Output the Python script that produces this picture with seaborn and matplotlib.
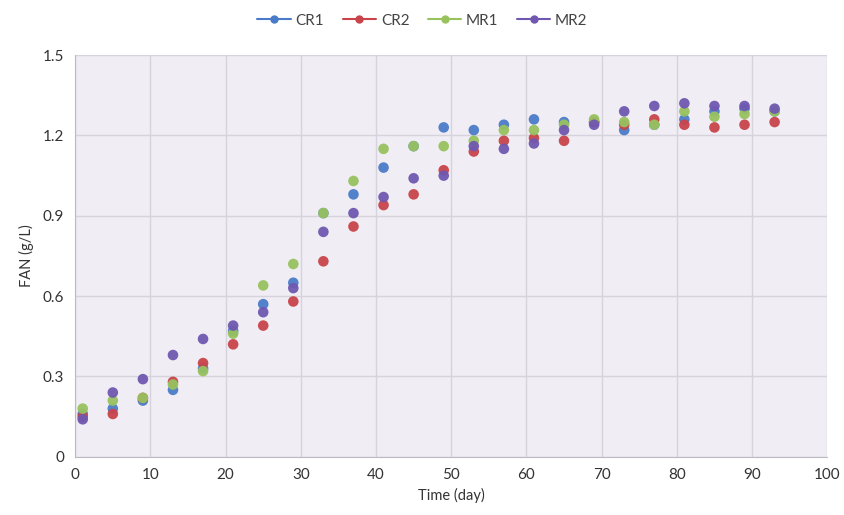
import pandas as pd
import matplotlib.pyplot as plt
import seaborn as sns
from matplotlib.lines import Line2D

days = [1, 5, 9, 13, 17, 21, 25, 29, 33, 37, 41, 45, 49, 53, 57, 61, 65, 69, 73, 77, 81, 85, 89, 93]
cr1 = [0.16, 0.18, 0.21, 0.25, 0.33, 0.47, 0.57, 0.65, 0.91, 0.98, 1.08, 1.16, 1.23, 1.22, 1.24, 1.26, 1.25, 1.25, 1.22, 1.24, 1.26, 1.29, 1.30, 1.29]
cr2 = [0.15, 0.16, 0.22, 0.28, 0.35, 0.42, 0.49, 0.58, 0.73, 0.86, 0.94, 0.98, 1.07, 1.14, 1.18, 1.19, 1.18, 1.25, 1.24, 1.26, 1.24, 1.23, 1.24, 1.25]
mr1 = [0.18, 0.21, 0.22, 0.27, 0.32, 0.46, 0.64, 0.72, 0.91, 1.03, 1.15, 1.16, 1.16, 1.18, 1.22, 1.22, 1.24, 1.26, 1.25, 1.24, 1.29, 1.27, 1.28, 1.29]
mr2 = [0.14, 0.24, 0.29, 0.38, 0.44, 0.49, 0.54, 0.63, 0.84, 0.91, 0.97, 1.04, 1.05, 1.16, 1.15, 1.17, 1.22, 1.24, 1.29, 1.31, 1.32, 1.31, 1.31, 1.30]

series = ["CR1", "CR2", "MR1", "MR2"]
colors = ["#4A7BC8", "#C8444A", "#98C25E", "#7058B0"]

df = pd.DataFrame({
    "Time": days * 4,
    "FAN": cr1 + cr2 + mr1 + mr2,
    "Series": sum([[s] * len(days) for s in series], []),
})

sns.set_style("white")
plt.rcParams["font.family"] = ["Lato", "DejaVu Sans"]

fig = plt.figure(figsize=(8.45, 5.15), dpi=100)
ax = fig.add_axes([0.089, 0.113, 0.89, 0.78])
ax.set_facecolor("#F0EDF4")

sns.scatterplot(data=df, x="Time", y="FAN", hue="Series", palette=colors,
                s=58, linewidth=0, alpha=0.95, legend=False, ax=ax, zorder=3)

ax.set_xlim(0, 100)
ax.set_ylim(0, 1.5)
ax.set_xticks(range(0, 101, 10))
ax.set_yticks([0, 0.3, 0.6, 0.9, 1.2, 1.5])
ax.set_yticklabels(["0", "0.3", "0.6", "0.9", "1.2", "1.5"])
ax.grid(True, color="#D6D3DC", linewidth=1)
ax.set_axisbelow(True)
for side in ["top", "right"]:
    ax.spines[side].set_visible(False)
for side in ["left", "bottom"]:
    ax.spines[side].set_color("#BDBAC4")
ax.tick_params(axis="both", labelsize=11, colors="#333333", length=0, pad=8)

ax.set_xlabel("Time (day)", fontsize=10.5, color="#333333", labelpad=4)
ax.set_ylabel("FAN (g/L)", fontsize=10.5, color="#333333", labelpad=6)

handles = [Line2D([0], [0], color=c, marker="o", markersize=5, linewidth=1.5) for c in colors]
fig.legend(handles, series, loc="upper center", bbox_to_anchor=(0.5, 1.0), ncol=4,
           frameon=False, fontsize=11, handlelength=2.2, columnspacing=1.2, handletextpad=0.3,
           labelcolor="#444444")

plt.savefig("out.png", dpi=100)
